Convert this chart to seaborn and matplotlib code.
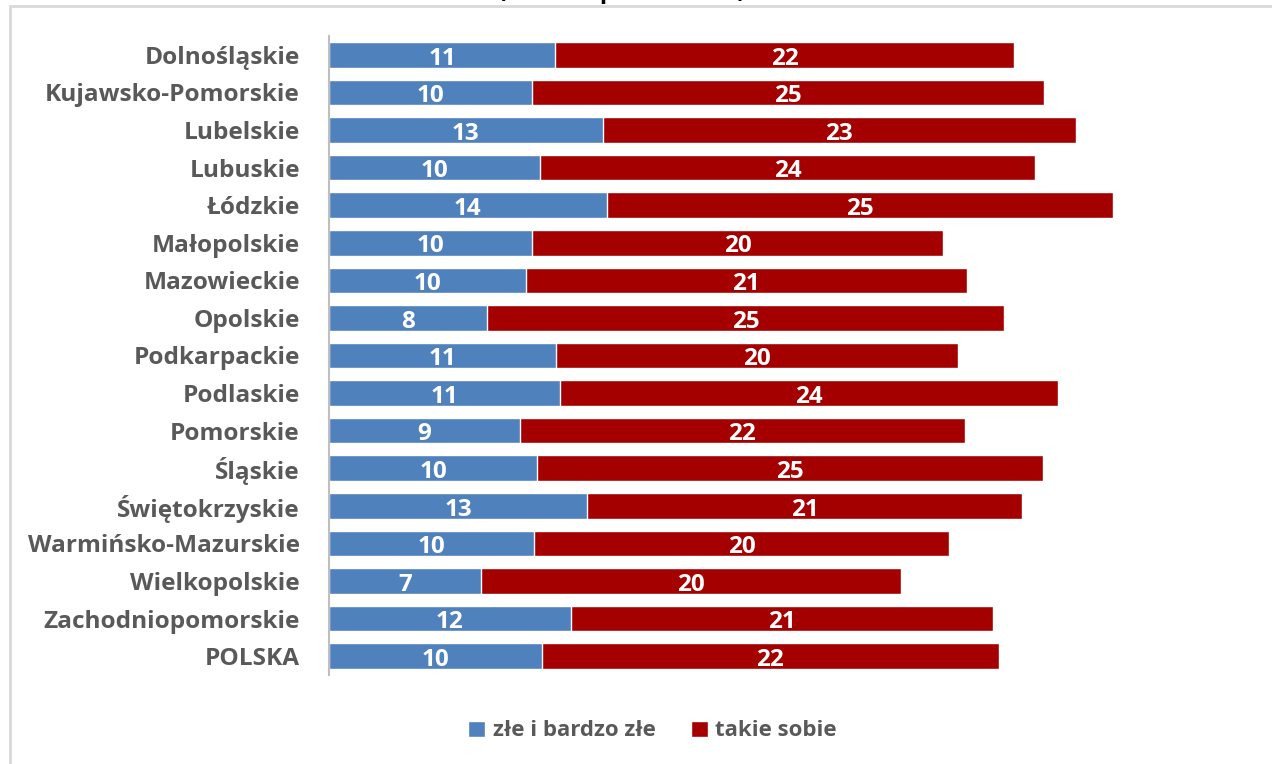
import matplotlib
matplotlib.use("Agg")
import matplotlib.pyplot as plt
import pandas as pd
import seaborn as sns
from matplotlib.patches import Patch, Rectangle

# dane (w %)
regiony = ["Dolnośląskie", "Kujawsko-Pomorskie", "Lubelskie", "Lubuskie", "Łódzkie",
           "Małopolskie", "Mazowieckie", "Opolskie", "Podkarpackie", "Podlaskie",
           "Pomorskie", "Śląskie", "Świętokrzyskie", "Warmińsko-Mazurskie",
           "Wielkopolskie", "Zachodniopomorskie", "POLSKA"]
zle = [11.00, 9.86, 13.32, 10.27, 13.51, 9.89, 9.57, 7.67, 11.05, 11.23,
       9.28, 10.12, 12.55, 9.99, 7.38, 11.76, 10.35]
takie_sobie = [22.34, 24.93, 23.03, 24.09, 24.64, 20.00, 21.47, 25.19, 19.56, 24.23,
               21.67, 24.64, 21.18, 20.18, 20.44, 20.56, 22.25]
serie = ["złe i bardzo złe", "takie sobie"]
tytul = "(dane w procentach)"

NIEBIESKI = "#4f81bd"
CZERWONY = "#a50000"
SZARY = "#595959"

df = pd.DataFrame({"region": regiony, "zle": zle, "takie": takie_sobie})
df["suma"] = df["zle"] + df["takie"]

sns.set_style("white")
plt.rcParams["font.family"] = ["Open Sans", "DejaVu Sans"]

fig = plt.figure(figsize=(12.72, 7.64), dpi=100)
ax = fig.add_axes([329 / 1272, 89 / 764, 822 / 1272, 639 / 764])

# słupki skumulowane: najpierw suma (czerwony), potem niebieski na wierzchu
sns.barplot(data=df, x="suma", y="region", color=CZERWONY, width=0.68,
            saturation=1, ax=ax, orient="h")
sns.barplot(data=df, x="zle", y="region", color=NIEBIESKI, width=0.68,
            saturation=1, ax=ax, orient="h")

# etykiety wartości (zaokrąglone), trochę niżej bo Open Sans ma duży descent
for i, row in df.iterrows():
    ax.text(row["zle"] / 2, i + 0.1, f"{row['zle']:.0f}", ha="center", va="center",
            color="white", fontsize=17.5, fontweight="bold")
    ax.text(row["zle"] + row["takie"] / 2, i + 0.1, f"{row['takie']:.0f}", ha="center",
            va="center", color="white", fontsize=17.5, fontweight="bold")

ax.set_xlim(0, 40)
ax.set_ylim(len(regiony) - 0.5, -0.5)
ax.set_xlabel("")
ax.set_ylabel("")
ax.set_xticks([])
for s in ["top", "right", "bottom"]:
    ax.spines[s].set_visible(False)
ax.spines["left"].set_color("#bfbfbf")
ax.spines["left"].set_linewidth(1.5)
ax.tick_params(axis="y", length=0, pad=21, labelsize=17.6, labelcolor=SZARY)
for t in ax.get_yticklabels():
    t.set_fontweight("bold")

handles = [Patch(facecolor=NIEBIESKI, label=serie[0]),
           Patch(facecolor=CZERWONY, label=serie[1])]
fig.legend(handles=handles, loc="center", bbox_to_anchor=(0.513, 33 / 764), ncol=2,
           frameon=False, handlelength=0.75, handleheight=0.75, handletextpad=0.35,
           columnspacing=1.6, prop={"size": 16, "weight": "bold"}, labelcolor=SZARY)

# ramka wykresu i obcięty tytuł (widać tylko dolne końcówki znaków)
fig.patches.append(Rectangle((10 / 1272, -0.05), 1.1, 1 - 6 / 764 + 0.05,
                             transform=fig.transFigure, fill=False,
                             edgecolor="#d9d9d9", linewidth=2))
fig.text(622 / 1272, 1 + 2.5 / 764, tytul, ha="center", va="baseline",
         fontsize=17.5, fontweight="bold", color="black")

fig.savefig("out.png", dpi=100)
